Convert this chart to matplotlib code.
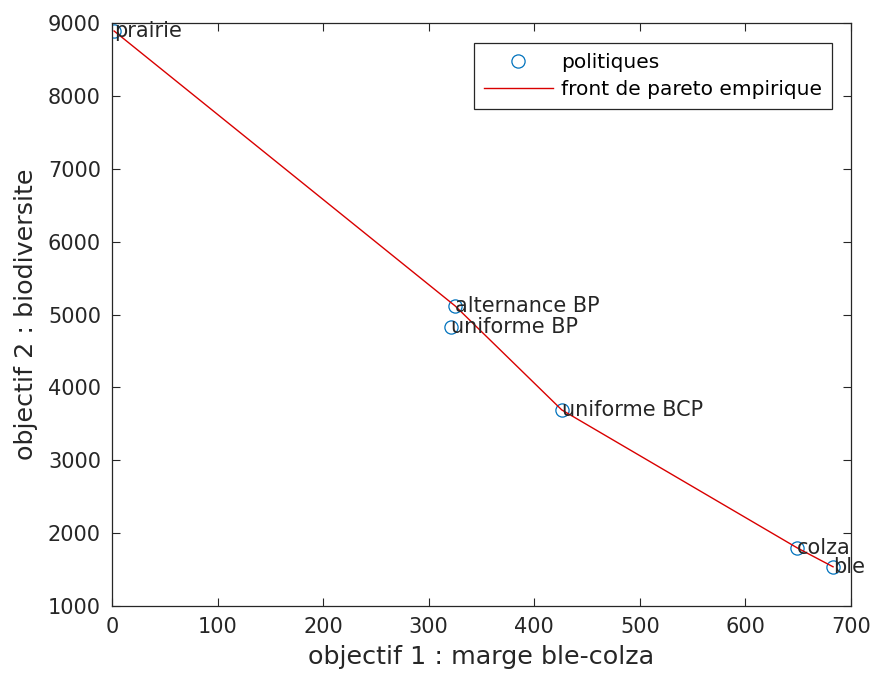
import matplotlib
matplotlib.use("Agg")
from matplotlib import pyplot as plt

# policies: (marge ble-colza, biodiversite)
names = ["prairie", "alternance BP", "uniforme BP", "uniforme BCP", "colza", "ble"]
marge = [2, 325, 321, 426, 649, 683]
biodiv = [8890, 5118, 4830, 3691, 1798, 1538]

# empirical pareto front (non-dominated policies)
front_x = [2, 325, 426, 649, 683]
front_y = [8890, 5118, 3691, 1798, 1538]

plt.rcParams['font.family'] = ['DejaVu Sans']
dark = '#262626'

fig = plt.figure(figsize=(8.78, 6.8), dpi=100)
ax = fig.add_axes([112/878, 1-606/680, 739/878, 583/680])

ax.plot(marge, biodiv, 'o', mfc='none', mec=(0, 0.447, 0.741), ms=9.5, mew=0.9,
        label='politiques')
ax.plot(front_x, front_y, '-', color=(0.85, 0, 0), lw=1, label='front de pareto empirique')

for n, xv, yv in zip(names, marge, biodiv):
    ax.text(xv, yv, n, fontsize=15, va='center', ha='left', color=dark)

ax.set_xlim(0, 700)
ax.set_ylim(1000, 9000)
ax.set_xticks(range(0, 701, 100))
ax.set_yticks(range(1000, 9001, 1000))
ax.tick_params(direction='in', top=True, right=True, labelsize=15, length=6,
               colors=dark, labelcolor=dark, pad=8)
for s in ax.spines.values():
    s.set_color(dark)
    s.set_linewidth(0.9)

ax.set_xlabel('objectif 1 : marge ble-colza', fontsize=18.3, color=dark, labelpad=6)
ax.set_ylabel('objectif 2 : biodiversite', fontsize=18.3, color=dark, labelpad=7)

leg = ax.legend(loc='upper right', bbox_to_anchor=(0.974, 0.966), fontsize=14.5,
                fancybox=False, edgecolor=dark, framealpha=1, borderaxespad=0,
                handlelength=3.4, handletextpad=0.4, labelspacing=0.4, borderpad=0.5)
leg.get_frame().set_linewidth(0.9)

fig.savefig('out.png', dpi=100)
